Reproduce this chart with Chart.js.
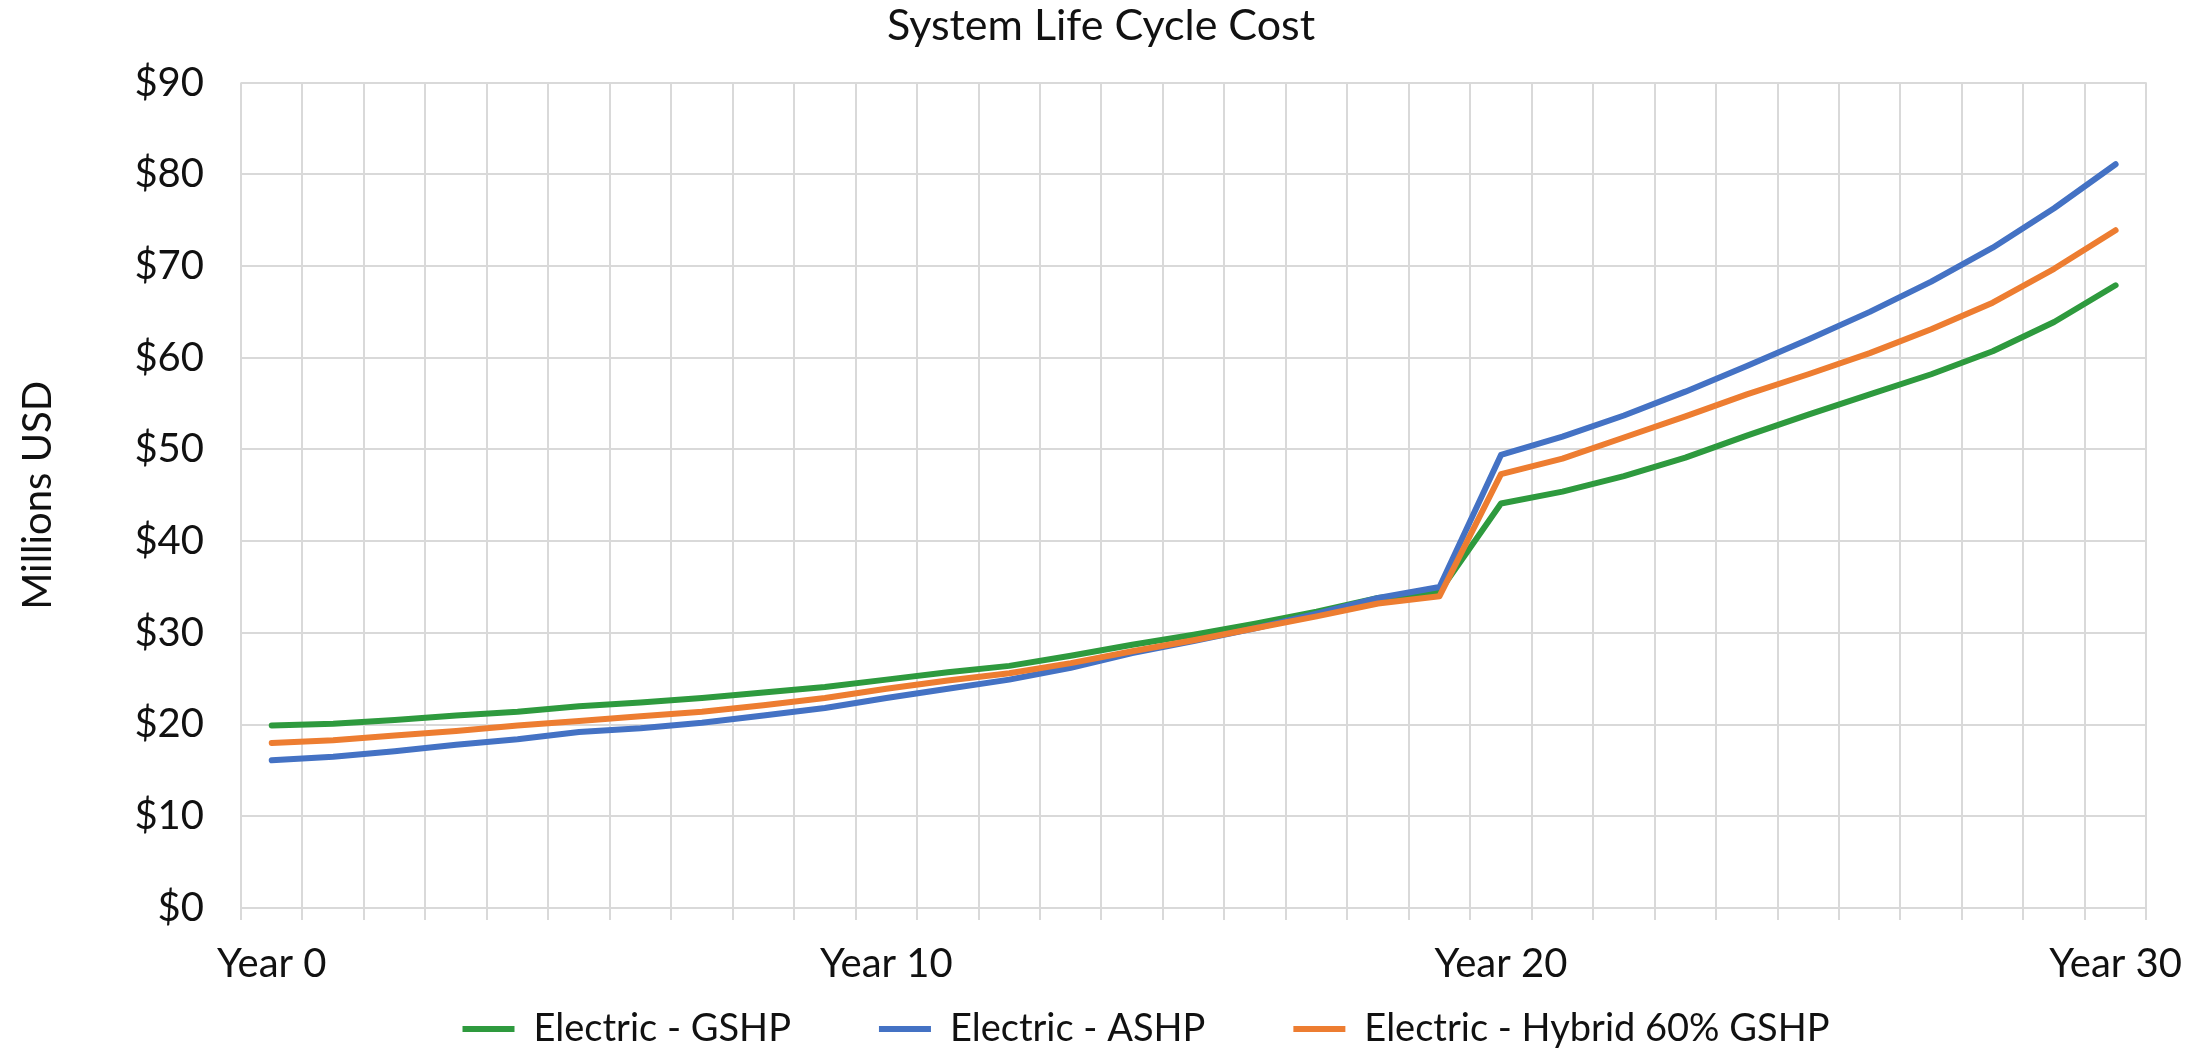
<!DOCTYPE html>
<html>
<head>
<meta charset="utf-8">
<title>System Life Cycle Cost</title>
<script src="https://cdn.jsdelivr.net/npm/chart.js@4.4.1/dist/chart.umd.min.js"></script>
<style>
  html, body { margin: 0; padding: 0; background: #fff; }
  #wrap { width: 2202px; height: 1048px; }
</style>
</head>
<body>
<div id="wrap"><canvas id="mycanvas"></canvas></div>
<script>
// years on the x axis (only every 10th gets a label)
var years = [0, 1, 2, 3, 4, 5, 6, 7, 8, 9, 10, 11, 12, 13, 14, 15, 16, 17, 18, 19, 20, 21, 22, 23, 24, 25, 26, 27, 28, 29, 30];
var yearLabels = ['Year 0', 'Year 10', 'Year 20', 'Year 30'];

// cumulative cost, millions USD
var gshp = [19.9, 20.1, 20.5, 21.0, 21.4, 22.0, 22.4, 22.9, 23.5, 24.1, 24.9, 25.7, 26.4, 27.5, 28.7, 29.8, 31.0, 32.3, 33.8, 34.5, 44.1, 45.4, 47.1, 49.1, 51.5, 53.8, 56.0, 58.2, 60.7, 63.9, 67.9];
var ashp = [16.1, 16.5, 17.1, 17.8, 18.4, 19.2, 19.6, 20.2, 21.0, 21.8, 22.9, 23.9, 24.9, 26.2, 27.8, 29.1, 30.5, 32.1, 33.8, 35.0, 49.4, 51.4, 53.7, 56.3, 59.1, 62.0, 65.0, 68.3, 72.0, 76.3, 81.1];
var hybrid = [18.0, 18.3, 18.8, 19.3, 19.9, 20.4, 20.9, 21.4, 22.1, 22.9, 23.9, 24.8, 25.6, 26.7, 28.0, 29.2, 30.5, 31.8, 33.2, 34.0, 47.3, 49.0, 51.3, 53.6, 56.0, 58.2, 60.5, 63.1, 66.0, 69.7, 73.9];

var yTicks = [0, 10, 20, 30, 40, 50, 60, 70, 80, 90];

var gridColor = '#d9d9d9';

Chart.defaults.font.family = 'Lato, "Open Sans", sans-serif';
Chart.defaults.font.size = 40;
Chart.defaults.color = '#111';

function line(label, data, color, order) {
	return {
		label: label,
		data: data,
		borderColor: color,
		backgroundColor: color,
		borderWidth: 6,
		borderCapStyle: 'round',
		borderJoinStyle: 'round',
		pointRadius: 0,
		pointHoverRadius: 0,
		tension: 0,
		order: order
	};
}

// nudge the legend to where Excel put it (keep its clip box down to the bottom edge)
var legendShift = {
	id: 'legendShift',
	afterLayout: function(chart) {
		var l = chart.legend;
		l.left += 45; l.right += 45;
		l.top -= 66;
		l.bottom = chart.height;
	}
};

var ctx = document.getElementById('mycanvas');
var chart = new Chart(ctx, {
	type: 'line',
	data: {
		labels: years.map(function(y) { return 'Year ' + y; }),
		datasets: [
			line('Electric - GSHP', gshp, '#2e9a3e', 2),
			line('Electric - ASHP', ashp, '#4472c4', 1),
			line('Electric - Hybrid 60% GSHP', hybrid, '#ed7d31', 0)
		]
	},
	options: {
		responsive: true,
		maintainAspectRatio: false,
		animation: false,
		layout: { padding: 0 },
		plugins: {
			title: {
				display: true,
				text: 'System Life Cycle Cost',
				color: '#111',
				font: { size: 43, weight: 'normal' },
				padding: { top: 0, bottom: 31 }
			},
			legend: {
				position: 'bottom',
				maxHeight: 60,
				labels: {
					usePointStyle: true,
					pointStyle: 'line',
					pointStyleWidth: 52,
					padding: 88,
					color: '#111',
					font: { size: 38 },
					sort: function(a, b) { return a.datasetIndex - b.datasetIndex; }
				}
			},
			tooltip: { enabled: false }
		},
		scales: {
			x: {
				offset: true,
				border: { display: false },
				grid: { offset: true, color: gridColor, lineWidth: 2, drawTicks: true, tickLength: 12 },
				ticks: {
					autoSkip: false,
					maxRotation: 0,
					padding: 20,
					callback: function(v, i) {
						var lab = this.getLabelForValue(v);
						return yearLabels.indexOf(lab) >= 0 ? lab : '';
					}
				},
				afterFit: function(scale) { scale.height = 80; }
			},
			y: {
				min: 0,
				max: 90,
				border: { display: false },
				grid: { color: gridColor, lineWidth: 2, drawTicks: false },
				ticks: {
					stepSize: 10,
					padding: 37,
					callback: function(v) { return yTicks.indexOf(v) >= 0 ? '$' + v : ''; }
				},
				title: {
					display: true,
					text: 'Millions USD',
					color: '#111',
					font: { size: 40 },
					padding: { top: 14, bottom: 0 }
				},
				afterFit: function(scale) { scale.width = 241; }
			}
		}
	},
	plugins: [legendShift]
});
</script>
</body>
</html>
